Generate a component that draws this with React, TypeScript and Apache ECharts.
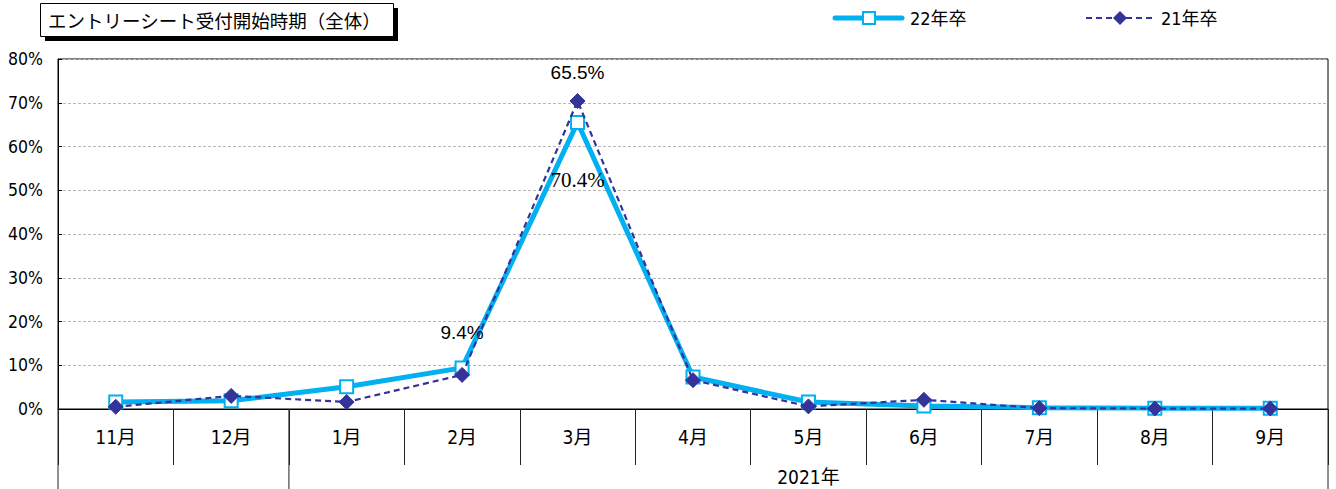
import React, { useEffect, useRef } from "react";
import * as echarts from "echarts";

const categories = ["11月", "12月", "1月", "2月", "3月", "4月", "5月", "6月", "7月", "8月", "9月"];
const s22 = [1.6, 1.9, 5.1, 9.4, 65.5, 7.3, 1.6, 0.7, 0.3, 0.2, 0.2];
const s21 = [0.5, 3.0, 1.6, 7.8, 70.4, 6.6, 0.6, 2.1, 0.2, 0.1, 0.1];
const yTicks = [0, 10, 20, 30, 40, 50, 60, 70, 80];
const seriesNames = ["22年卒", "21年卒"];
const titleText = "エントリーシート受付開始時期（全体）";
const yearLabel = "2021年";
const yearStartIndex = 2;

const JP = "Noto Sans CJK JP";
const COND = "DejaVu Sans Condensed, Noto Sans CJK JP, sans-serif";
const SANS = "Liberation Sans, Arial, sans-serif";
const SERIF = "Liberation Serif, Times New Roman, serif";
const C22 = "#00B0F0";
const C21 = "#333399";

export default function App() {
  const ref = useRef<HTMLDivElement>(null);
  useEffect(() => {
    if (!ref.current) return;
    const chart = echarts.init(ref.current, null, { renderer: "svg" });
    const fmt = (p: any) => Number(p.value).toFixed(1) + "%";
    const option: any = {
      animation: false,
      backgroundColor: "#fff",
      grid: {
        left: 58, right: 8, top: 59, bottom: 80,
        show: true, borderColor: "#000", borderWidth: 1, backgroundColor: "transparent",
      },
      xAxis: {
        type: "category",
        data: categories,
        boundaryGap: true,
        axisLine: { lineStyle: { color: "#000", width: 1 } },
        axisTick: { show: true, length: 56, lineStyle: { color: "#222" } },
        axisLabel: { color: "#000", fontSize: 19, margin: 18, fontFamily: COND },
      },
      yAxis: {
        type: "value",
        min: yTicks[0],
        max: yTicks[yTicks.length - 1],
        interval: 10,
        axisLine: { show: true, lineStyle: { color: "#000" } },
        axisTick: { show: true, inside: true, length: 4, lineStyle: { color: "#000" } },
        axisLabel: { color: "#000", fontSize: 17.5, margin: 15, formatter: "{value}%", fontFamily: COND },
        splitLine: { show: true, lineStyle: { color: "#b8b8b8", type: [3, 2], width: 1 } },
      },
      series: [
        {
          name: seriesNames[0],
          type: "line",
          data: s22.map((v, i) => {
            if (i === 3) return { value: v, label: { show: true, distance: 18 } };
            if (i === 4) return { value: v, label: { show: true, distance: 33 } };
            return v;
          }),
          symbol: "rect",
          symbolSize: 13,
          lineStyle: { color: C22, width: 5 },
          itemStyle: { color: "#fff", borderColor: C22, borderWidth: 2 },
          label: { show: false, position: "top", formatter: fmt, fontSize: 19, color: "#000", fontFamily: SANS },
          z: 2,
        },
        {
          name: seriesNames[1],
          type: "line",
          data: s21.map((v, i) => {
            if (i === 4) return { value: v, label: { show: true, distance: 60 } };
            return v;
          }),
          symbol: "diamond",
          symbolSize: 15,
          lineStyle: { color: C21, width: 2.2, type: [6, 4] },
          itemStyle: { color: C21, borderColor: C21 },
          label: { show: false, position: "bottom", formatter: fmt, fontSize: 21, color: "#000", fontFamily: SERIF },
          z: 3,
        },
      ],
    };
    chart.setOption(option);

    const p0 = chart.convertToPixel({ xAxisIndex: 0 }, 0) as number;
    const p1 = chart.convertToPixel({ xAxisIndex: 0 }, 1) as number;
    const bw = p1 - p0;
    const leftX = p0 - bw / 2;
    const rightX = (chart.convertToPixel({ xAxisIndex: 0 }, categories.length - 1) as number) + bw / 2;
    const midX = (chart.convertToPixel({ xAxisIndex: 0 }, yearStartIndex) as number) - bw / 2;
    const baseY = chart.convertToPixel({ yAxisIndex: 0 }, 0) as number;
    const bottomY = 489;
    const lineStyle = { stroke: "#222", lineWidth: 1 };
    const ly = 18;

    chart.setOption({
      graphic: [
        { type: "line", shape: { x1: leftX, y1: baseY, x2: leftX, y2: bottomY }, style: lineStyle, z: 10 },
        { type: "line", shape: { x1: midX, y1: baseY, x2: midX, y2: bottomY }, style: lineStyle, z: 10 },
        { type: "line", shape: { x1: rightX, y1: baseY, x2: rightX, y2: bottomY }, style: lineStyle, z: 10 },
        {
          type: "text", x: (midX + rightX) / 2, y: 477,
          style: { text: yearLabel, fontSize: 19, fill: "#000", fontFamily: COND, align: "center", verticalAlign: "middle" },
        },
        // title box
        { type: "rect", shape: { x: 45, y: 8, width: 353, height: 33 }, style: { fill: "#000" }, z: 20 },
        { type: "rect", shape: { x: 40.5, y: 3.5, width: 353, height: 33 }, style: { fill: "#fff", stroke: "#000", lineWidth: 1 }, z: 21 },
        {
          type: "text", x: 48, y: 20, z: 22,
          style: { text: titleText, fontSize: 18.5, fill: "#000", fontFamily: JP, verticalAlign: "middle" },
        },
        // legend 22年卒
        { type: "line", shape: { x1: 835, y1: ly, x2: 902, y2: ly }, style: { stroke: C22, lineWidth: 5, lineCap: "round" }, z: 20 },
        { type: "rect", shape: { x: 863, y: ly - 6, width: 12, height: 12 }, style: { fill: "#fff", stroke: C22, lineWidth: 2 }, z: 21 },
        {
          type: "text", x: 910, y: ly, z: 22,
          style: { text: seriesNames[0], fontSize: 18, fill: "#000", fontFamily: COND, verticalAlign: "middle" },
        },
        // legend 21年卒
        { type: "line", shape: { x1: 1086, y1: ly, x2: 1155, y2: ly }, style: { stroke: C21, lineWidth: 2.2, lineDash: [6, 4] }, z: 20 },
        { type: "polygon", shape: { points: [[1120, ly - 7], [1127, ly], [1120, ly + 7], [1113, ly]] }, style: { fill: C21 }, z: 21 },
        {
          type: "text", x: 1161, y: ly, z: 22,
          style: { text: seriesNames[1], fontSize: 18, fill: "#000", fontFamily: COND, verticalAlign: "middle" },
        },
      ],
    });

    return () => chart.dispose();
  }, []);
  return <div ref={ref} style={{ position: "fixed", left: 0, top: 0, width: 1336, height: 489 }} />;
}
